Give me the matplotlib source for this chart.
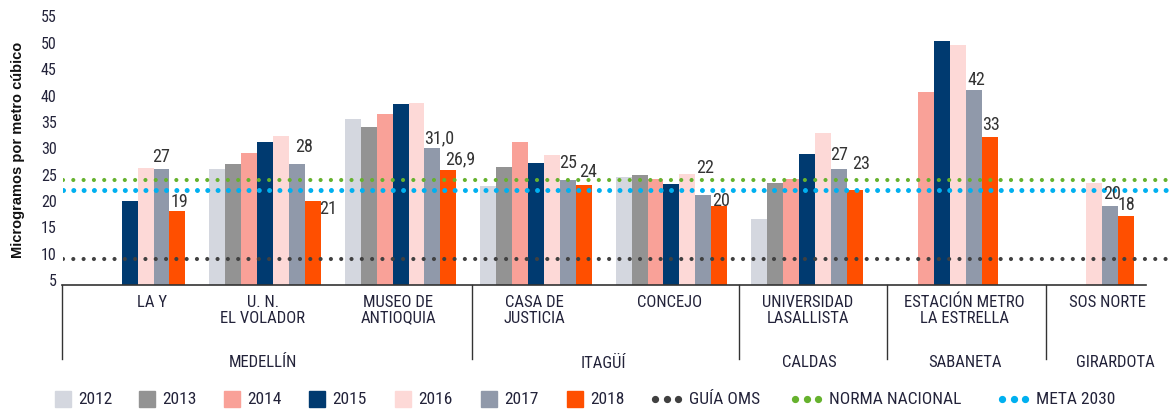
import numpy as np
import matplotlib.pyplot as plt
from matplotlib.patches import Rectangle
from matplotlib.lines import Line2D
import matplotlib.transforms as mtransforms

plt.rcParams['font.family'] = ['Roboto Condensed', 'DejaVu Sans']
plt.rcParams['font.stretch'] = 'condensed'

nan = np.nan

anios = ['2012', '2013', '2014', '2015', '2016', '2017', '2018']
estaciones = ['LA Y', 'U. N.\nEL VOLADOR', 'MUSEO DE\nANTIOQUIA', 'CASA DE\nJUSTICIA',
              'CONCEJO', 'UNIVERSIDAD\nLASALLISTA', 'ESTACIÓN METRO\nLA ESTRELLA', 'SOS NORTE']
municipios = ['MEDELLÍN', 'ITAGÜÍ', 'CALDAS', 'SABANETA', 'GIRARDOTA']

# PM2.5 promedio anual (ug/m3) por estacion
v2012 = [nan, 27.0, 36.5, 23.7, 25.4, 17.5, nan, nan]
v2013 = [nan, 28.0, 35.0, 27.3, 25.8, 24.4, nan, nan]
v2014 = [nan, 30.0, 37.4, 32.1, 25.1, 25.1, 41.6, nan]
v2015 = [21.0, 32.1, 39.3, 28.1, 24.2, 29.8, 51.3, nan]
v2016 = [27.2, 33.3, 39.6, 29.6, 26.0, 33.8, 50.6, 24.4]
v2017 = [27.0, 28.0, 31.0, 25.0, 22.0, 27.0, 42.0, 20.0]
v2018 = [19.0, 21.0, 26.9, 24.0, 20.0, 23.0, 33.0, 18.0]
decimales = [0, 0, 1, 0, 0, 0, 0, 0]

guia_oms = 10
norma_nacional = 25
meta_2030 = 23

series = [v2012, v2013, v2014, v2015, v2016, v2017, v2018]
colores = ['#d4d7df', '#939393', '#f9a198', '#003a70', '#fdd9d7', '#9099aa', '#ff4f00']
col_oms, col_norma, col_meta = '#404040', '#66b22e', '#00b0f0'
texto = '#23233a'

fig = plt.figure(figsize=(11.72, 4.14), dpi=100)
ax = fig.add_axes([63 / 1172, 1 - 286 / 414, 1 - 63 / 1172, (286 - 22.5) / 414])

x = np.arange(len(estaciones))
ancho = 0.118
for i, (vals, c) in enumerate(zip(series, colores)):
    ax.bar(x + (i - 3) * ancho, vals, width=ancho, bottom=0, color=c, zorder=2)

ax.set_ylim(5, 55)
ax.set_xlim(-0.491, 7.694)

# lineas de referencia punteadas
for val, c, lw in [(guia_oms, col_oms, 3.0), (norma_nacional, col_norma, 3.0), (meta_2030, col_meta, 3.6)]:
    ax.axhline(val, color=c, lw=lw, linestyle=(0, (0.001, 10.3 / (lw / 0.72))),
               dash_capstyle='round', zorder=3)

# etiquetas de valor 2017 y 2018 (desplazamiento en pixeles)
off17 = [(0, 13), (7, 18), (7, 11), (0, 18), (2, 28), (0, 15), (2, 11), (2, 13)]
off18 = [(2, 10), (15, -7), (12, 11), (4, 14), (2, 6), (6, 27), (1, 13), (1, 12)]
for vals, offs, i in [(v2017, off17, 5), (v2018, off18, 6)]:
    for k, v in enumerate(vals):
        if decimales[k]:
            s = f'{v:.1f}'.replace('.', ',')
        else:
            s = f'{v:.0f}'
        ax.annotate(s, xy=(x[k] + (i - 3) * ancho, v), xytext=offs[k],
                    textcoords='offset pixels', ha='center', va='center',
                    fontsize=13, color='#333333', zorder=4)

for s in ax.spines.values():
    s.set_visible(False)
ax.set_xticks([])
ax.set_yticks(np.arange(5, 56, 5))
ax.tick_params(axis='y', length=0, pad=4.5, labelsize=11.5, labelcolor=texto)
desp = mtransforms.ScaledTranslation(0, 6 / 100, fig.dpi_scale_trans)
for lab in ax.get_yticklabels():
    lab.set_transform(lab.get_transform() + desp)

# eje inferior y separadores por municipio
ax.plot([-0.498, 7.50], [5, 5], color='#333333', lw=1.2, clip_on=False, zorder=5)
sep_x = [-0.498, 2.528, 4.498, 5.590, 6.764]
for sx in sep_x:
    ax.plot([sx, sx], [5, -9.0], color='#333333', lw=1.0, clip_on=False)

est_x = [0.166, 0.985, 1.982, 2.985, 3.989, 5.007, 6.159, 7.214]
for ex, nombre in zip(est_x, estaciones):
    ax.annotate(nombre, xy=(ex, 5), xytext=(0, -9), textcoords='offset pixels',
                ha='center', va='top', fontsize=12, color=texto, linespacing=1.05)

mun_x = [0.985, 3.494, 5.015, 6.166, 7.273]
for mx, nombre in zip(mun_x, municipios):
    ax.annotate(nombre, xy=(mx, 5), xytext=(0, -77), textcoords='offset pixels',
                ha='center', va='center', fontsize=12, color=texto)

fig.text(18 / 1172, 1 - 150 / 414, 'Microgramos por metro cúbico', rotation=90,
         ha='center', va='center', fontsize=10.5, fontweight='bold',
         family=['Liberation Sans', 'DejaVu Sans'], color='#111111')

# leyenda
W, H = 1172, 414
ly = 400
sw_x = [55, 139, 224, 309, 395, 481, 567]
for sx, c, a in zip(sw_x, colores, anios):
    fig.add_artist(Rectangle((sx / W, 1 - (ly + 8) / H), 16 / W, 16 / H,
                             transform=fig.transFigure, color=c))
    fig.text((sx + 23) / W, 1 - ly / H, a, ha='left', va='center', fontsize=12.5, color=texto)

lin_x = [655, 795, 1002]
lin_txt = ['GUÍA OMS', 'NORMA NACIONAL', 'META 2030']
for lx, c, t in zip(lin_x, [col_oms, col_norma, col_meta], lin_txt):
    px = np.array([lx, lx + 11.5, lx + 23])
    fig.add_artist(Line2D(px / W, np.full(3, 1 - ly / H), transform=fig.transFigure,
                          linestyle='none', marker='o', markersize=4.2, color=c))
    fig.text((lx + 34) / W, 1 - ly / H, t, ha='left', va='center', fontsize=12.5, color=texto)

fig.savefig('out.png', dpi=100)
